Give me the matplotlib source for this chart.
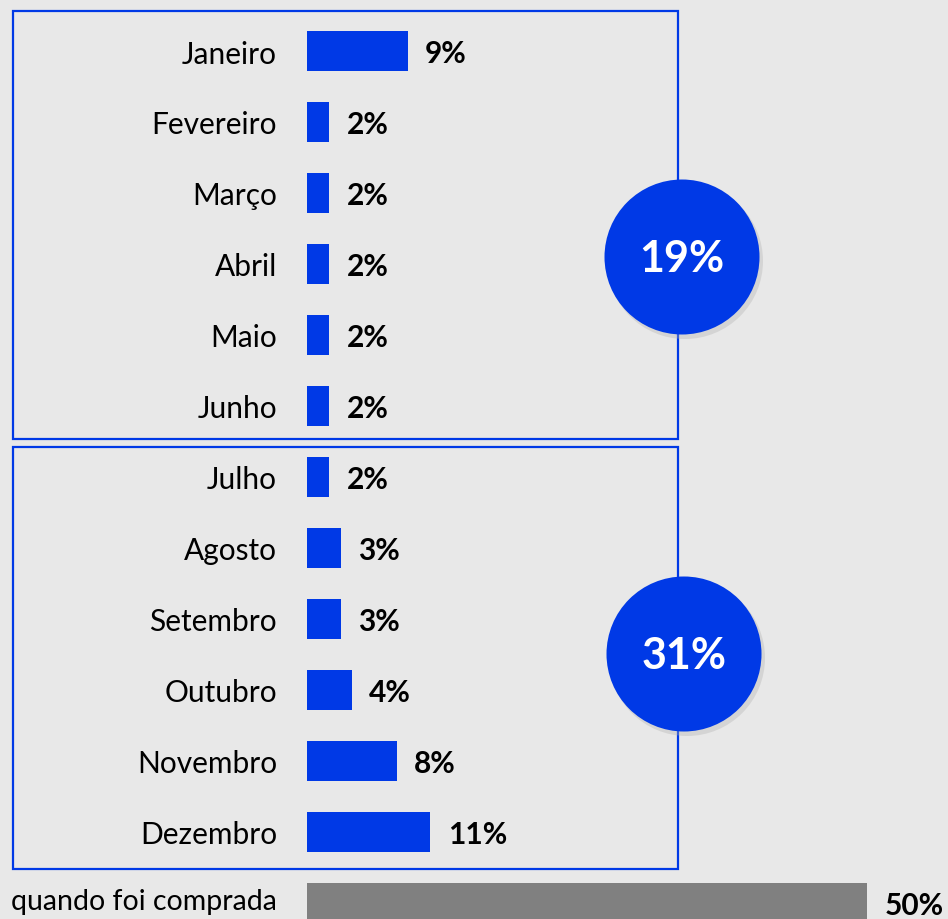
import numpy as np
import matplotlib
matplotlib.use('Agg')
from matplotlib import pyplot as plt
from matplotlib.patches import Rectangle, Circle

plt.rcParams['font.family'] = ['Lato', 'DejaVu Sans']

# Data
months_first = ['Janeiro', 'Fevereiro', 'Março', 'Abril', 'Maio', 'Junho']
values_first = [9, 2, 2, 2, 2, 2]
months_second = ['Julho', 'Agosto', 'Setembro', 'Outubro', 'Novembro', 'Dezembro']
values_second = [2, 3, 3, 4, 8, 11]
other_label = 'quando foi comprada'
other_value = 50

labels = months_first + months_second
values = values_first + values_second + [other_value]
colors = ['#0039e6'] * 12 + ['#808080']

bg = '#e8e8e8'
blue = '#0039e6'

fig = plt.figure(figsize=(9.48, 9.2), dpi=100)
fig.patch.set_facecolor(bg)

# Overlay in pixel units for boxes and circles
deco = fig.add_axes([0, 0, 1, 1])
deco.set_xlim(0, 948)
deco.set_ylim(920, 0)
deco.axis('off')
deco.patch.set_alpha(0)

# Bar axes: 0% at x=307px, 11.2 px per %; rows every 71 px starting at 52 px
ax = fig.add_axes([307 / 948, 0, 560 / 948, 1])
ax.set_xlim(0, 50)
ax.set_ylim((920 - 52) / 71, -52 / 71)
ax.patch.set_alpha(0)
for s in ax.spines.values():
    s.set_visible(False)

y = np.arange(len(values))
ax.barh(y, values, height=40 / 71, color=colors, zorder=3)
ax.set_xticks([])
ax.set_yticks(y[:12])
ax.set_yticklabels(labels, fontsize=21.5)
ax.tick_params(axis='y', length=0, pad=21.6)

# last label sits at the bottom edge of the picture, nudge it up to keep it inside
ax.annotate(other_label, (0, y[-1]), xytext=(-21.6, 1.5), textcoords='offset points',
            ha='right', va='center', fontsize=20.5, annotation_clip=False)

for yi, v in zip(y, values):
    ax.annotate(f'{v}%', (v, yi + 0.03), xytext=(12.5, 0), textcoords='offset points',
                ha='left', va='center', fontsize=21.5, fontweight='bold',
                color='black', annotation_clip=False)

# Group boxes
deco.add_patch(Rectangle((13, 12), 665, 428, fill=False, edgecolor=blue, lw=1.6, zorder=1))
deco.add_patch(Rectangle((13, 448), 665, 422, fill=False, edgecolor=blue, lw=1.6, zorder=1))

# Group totals in circles
totals = [sum(values_first), sum(values_second)]
centers = [(682, 258), (684, 655)]
for (cx, cy), tot in zip(centers, totals):
    deco.add_patch(Circle((cx + 3, cy + 4), 78, color='#b0b0b0', alpha=0.35, zorder=4, lw=0))
    deco.add_patch(Circle((cx, cy), 77.5, color=blue, zorder=5, lw=0))
    deco.text(cx, cy + 1, f'{tot}%', color='white', fontsize=31, fontweight='bold',
              ha='center', va='center', zorder=6)

fig.savefig('out.png', dpi=100, facecolor=fig.get_facecolor())
